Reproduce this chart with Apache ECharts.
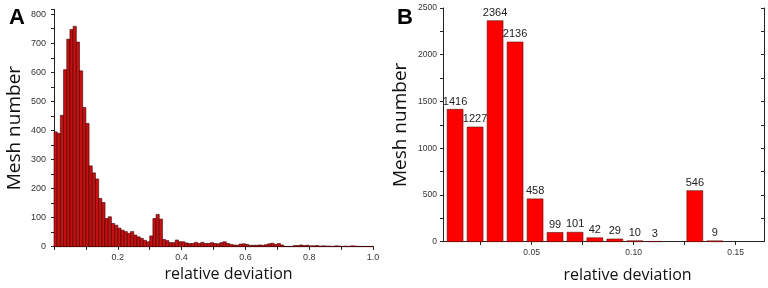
<!DOCTYPE html>
<html>
<head>
<meta charset="utf-8">
<title>relative deviation</title>
<script src="https://cdn.jsdelivr.net/npm/echarts@6/dist/echarts.min.js"></script>
<style>
  html, body { margin: 0; padding: 0; background: #fff; }
  #chart { width: 768px; height: 288px; }
</style>
</head>
<body>
<div id="chart"></div>
<script>
// panel A: histogram, bins of 0.01 from 0 to 1.0
var binWidthA = 0.01;
var countsA = [
  395, 390, 452, 609, 714, 747, 758, 704, 605, 479,
  424, 278, 254, 233, 166, 152, 97, 103, 80, 74,
  64, 57, 52, 46, 52, 40, 34, 29, 22, 17,
  37, 97, 111, 95, 25, 21, 14, 14, 23, 17,
  17, 13, 11, 11, 15, 11, 15, 11, 11, 14,
  11, 10, 14, 17, 11, 8, 6, 5, 9, 10,
  8, 5, 5, 5, 6, 5, 7, 10, 12, 8,
  11, 6, 1, 1, 1, 4, 4, 6, 4, 5,
  3, 3, 4, 2, 3, 2, 2, 1, 3, 2,
  1, 2, 1, 3, 2, 1, 1, 1, 1, 1
];
var xTicksA = [0.2, 0.4, 0.6, 0.8, 1.0];

// panel B: bin centres and counts
var centersB = [0.0125, 0.0223, 0.0321, 0.0419, 0.0517, 0.0615, 0.0713, 0.0810, 0.0908, 0.1006, 0.1104, 0.1202, 0.1300, 0.1398];
var countsB = [1416, 1227, 2364, 2136, 458, 99, 101, 42, 29, 10, 3, null, 546, 9];
var barWidthB = 0.0078;
var xTicksB = [0.05, 0.10, 0.15];

var dataA = countsA.map(function (v, i) { return [(i + 0.5) * binWidthA, v]; });
var dataB = [];
centersB.forEach(function (c, i) { if (countsB[i] != null) dataB.push([c, countsB[i]]); });

function barRenderer(w, withLabel) {
  return function (params, api) {
    var x = api.value(0), v = api.value(1);
    var p0 = api.coord([x - w / 2, v]);
    var p1 = api.coord([x + w / 2, 0]);
    var el = {
      type: 'rect',
      shape: { x: p0[0], y: p0[1], width: p1[0] - p0[0], height: p1[1] - p0[1] },
      style: api.style()
    };
    if (withLabel) {
      el.textContent = { style: { text: String(v), fill: '#222', fontSize: 11, fontFamily: 'Liberation Sans' } };
      el.textConfig = { position: 'top', distance: 2 };
    }
    return el;
  };
}

var tickFont = { fontSize: 9, color: '#333', fontFamily: 'Liberation Sans' };
var nameFont = { fontSize: 16, color: '#111', fontFamily: 'Open Sans' };
var yNameFont = { fontSize: 19, color: '#111', fontFamily: 'Open Sans' };
var lineStyle = { color: '#222', width: 1 };
var plain = function (v) { return String(v); };

var chart = echarts.init(document.getElementById('chart'));
chart.setOption({
  animation: false,
  title: [
    { text: 'A', left: 4, top: 2, textStyle: { fontSize: 22, fontWeight: 'bold', color: '#000', fontFamily: 'Liberation Sans' } },
    { text: 'B', left: 392, top: 2, textStyle: { fontSize: 22, fontWeight: 'bold', color: '#000', fontFamily: 'Liberation Sans' } }
  ],
  grid: [
    { left: 54, top: 9.5, width: 319, height: 237.2, outerBoundsMode: 'none' },
    { left: 443, top: 8, width: 321, height: 233.7, outerBoundsMode: 'none' }
  ],
  xAxis: [
    {
      type: 'value', gridIndex: 0, min: 0, max: 1.0, interval: 0.2,
      name: 'relative deviation', nameLocation: 'middle', nameGap: 20,
      nameTextStyle: Object.assign({ padding: [0, 0, 0, 30] }, nameFont),
      axisLine: { lineStyle: lineStyle },
      axisTick: { length: 3, lineStyle: lineStyle },
      minorTick: { show: true, splitNumber: 2, length: 3, lineStyle: lineStyle },
      axisLabel: Object.assign({ margin: 6, showMinLabel: false, formatter: function (v) { return v.toFixed(1); } }, tickFont),
      splitLine: { show: false }
    },
    {
      type: 'value', gridIndex: 0, position: 'top', min: 0, max: 1.0, interval: 0.2,
      axisLine: { lineStyle: lineStyle },
      axisTick: { inside: true, length: 3, lineStyle: lineStyle },
      minorTick: { show: true, splitNumber: 2, length: 3, lineStyle: lineStyle },
      axisLabel: { show: false }, splitLine: { show: false }
    },
    {
      type: 'value', gridIndex: 1, min: 0.00657, max: 0.1639,
      name: 'relative deviation', nameLocation: 'middle', nameGap: 26,
      nameTextStyle: Object.assign({ padding: [0, 0, 0, 48] }, nameFont),
      axisLine: { lineStyle: lineStyle },
      axisTick: { length: 3, lineStyle: lineStyle, customValues: [0.025, 0.05, 0.075, 0.10, 0.125, 0.15] },
      axisLabel: Object.assign({ margin: 6, customValues: xTicksB, formatter: function (v) { return v.toFixed(2); } }, tickFont, { fontSize: 8.5 }),
      splitLine: { show: false }
    },
    {
      type: 'value', gridIndex: 1, position: 'top', min: 0.00657, max: 0.1639,
      axisLine: { lineStyle: lineStyle },
      axisTick: { inside: true, length: 3, lineStyle: lineStyle, customValues: [0.025, 0.05, 0.075, 0.10, 0.125, 0.15] },
      axisLabel: { show: false }, splitLine: { show: false }
    }
  ],
  yAxis: [
    {
      type: 'value', gridIndex: 0, min: 0, max: 816, interval: 100,
      name: 'Mesh number', nameLocation: 'middle', nameGap: 30, nameTextStyle: yNameFont,
      axisLine: { show: true, lineStyle: lineStyle },
      axisTick: { show: true, length: 3, lineStyle: lineStyle },
      minorTick: { show: true, splitNumber: 2, length: 3, lineStyle: lineStyle },
      axisLabel: Object.assign({ margin: 8, formatter: function (v) { return v % 100 === 0 ? String(v) : ''; } }, tickFont),
      splitLine: { show: false }
    },
    {
      type: 'value', gridIndex: 0, position: 'right', min: 0, max: 816, interval: 100,
      axisLine: { show: true, lineStyle: lineStyle },
      axisTick: { show: true, inside: true, length: 3, lineStyle: lineStyle },
      axisLabel: { show: false }, splitLine: { show: false }
    },
    {
      type: 'value', gridIndex: 1, min: 0, max: 2500, interval: 500,
      name: 'Mesh number', nameLocation: 'middle', nameGap: 33, nameTextStyle: yNameFont,
      axisLine: { show: true, lineStyle: lineStyle },
      axisTick: { show: true, length: 3, lineStyle: lineStyle },
      minorTick: { show: true, splitNumber: 2, length: 3, lineStyle: lineStyle },
      axisLabel: Object.assign({ margin: 6, formatter: plain }, tickFont, { fontSize: 8.5 }),
      splitLine: { show: false }
    },
    {
      type: 'value', gridIndex: 1, position: 'right', min: 0, max: 2500, interval: 250,
      axisLine: { show: true, lineStyle: lineStyle },
      axisTick: { show: true, inside: true, length: 3, lineStyle: lineStyle },
      axisLabel: { show: false }, splitLine: { show: false }
    }
  ],
  series: [
    {
      type: 'custom', xAxisIndex: 0, yAxisIndex: 0,
      renderItem: barRenderer(binWidthA, false),
      itemStyle: { color: '#c81010', borderColor: '#3a0000', borderWidth: 0.6 },
      data: dataA
    },
    {
      type: 'custom', xAxisIndex: 2, yAxisIndex: 2,
      renderItem: barRenderer(barWidthB, true),
      itemStyle: { color: '#ff0000', borderColor: '#5a1010', borderWidth: 0.6 },
      data: dataB
    }
  ]
});
</script>
</body>
</html>
